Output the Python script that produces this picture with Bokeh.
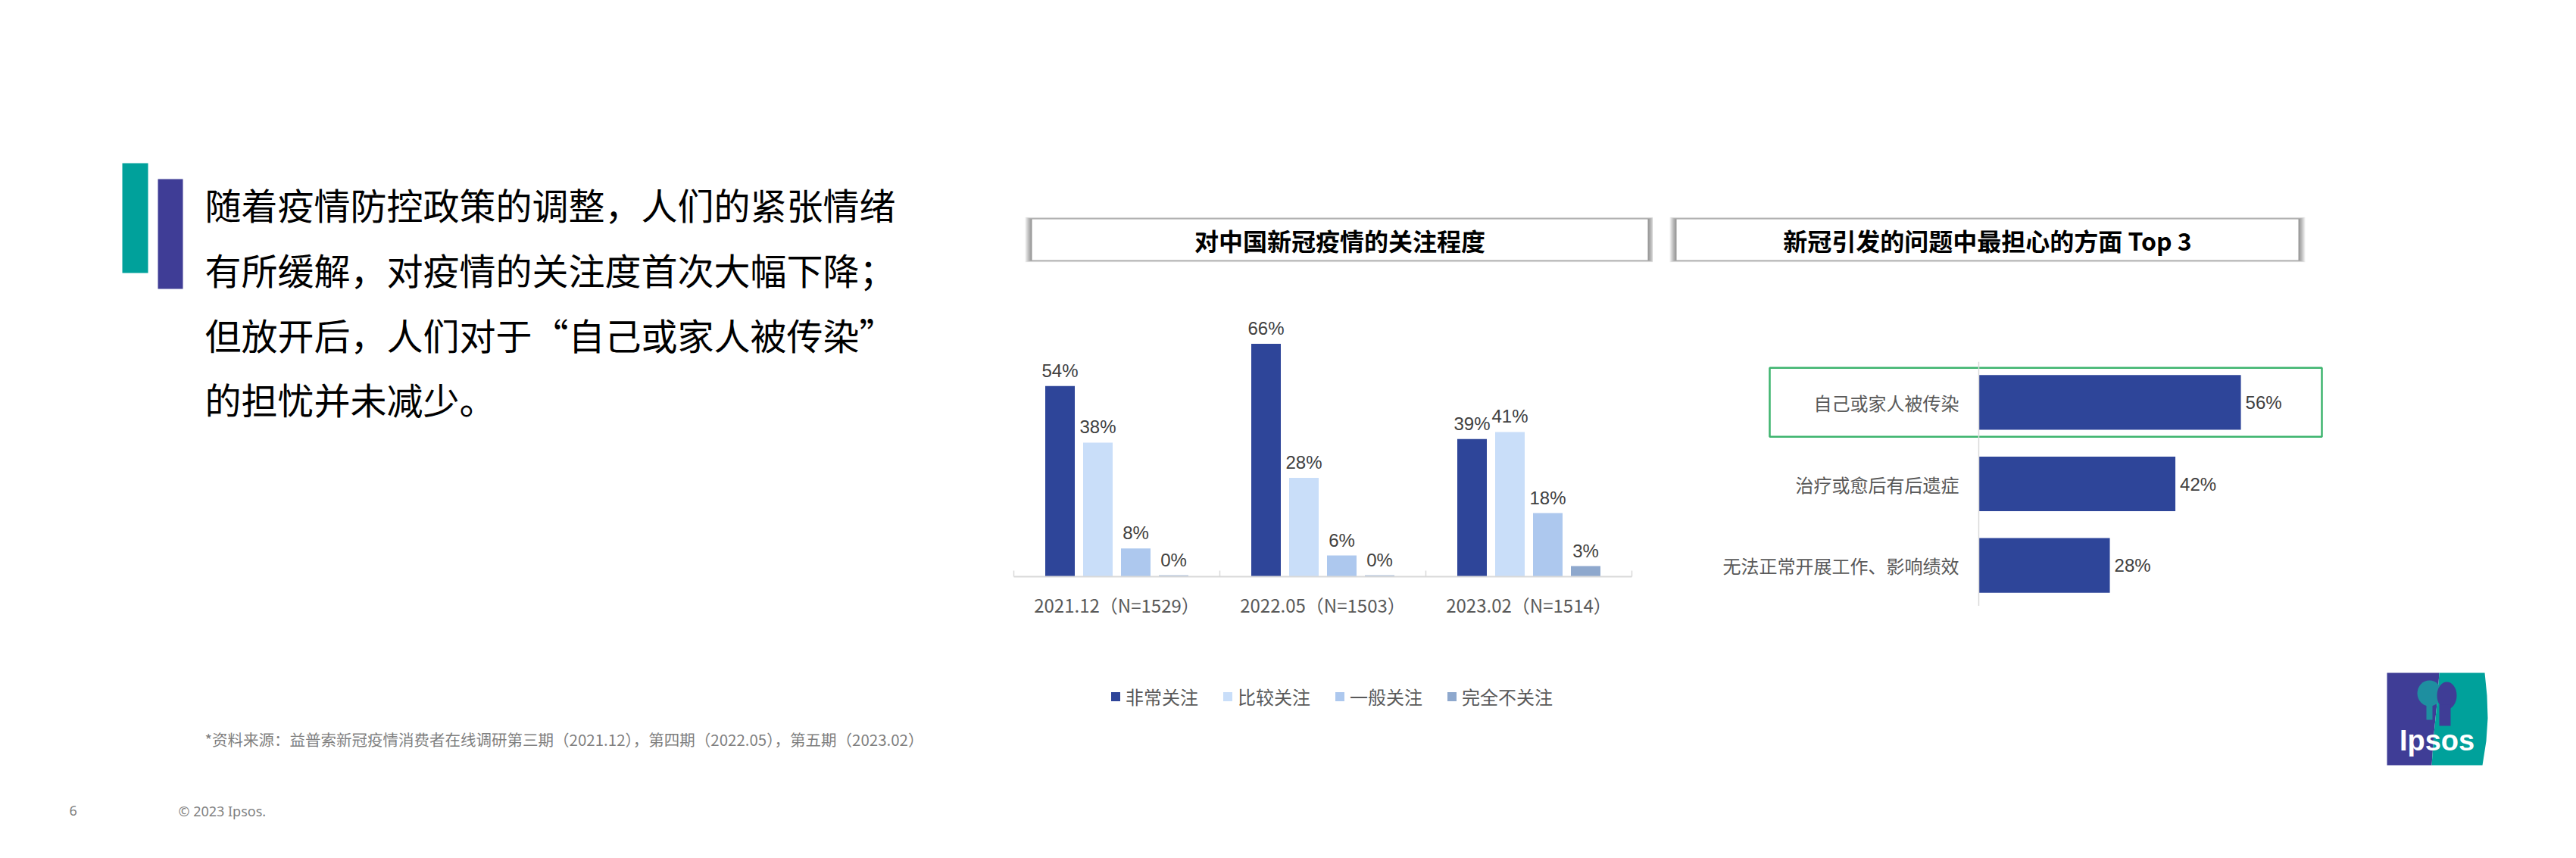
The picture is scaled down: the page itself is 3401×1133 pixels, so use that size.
from bokeh.plotting import figure
from bokeh.models import (Range1d, FactorRange, ColumnDataSource, Span, Legend,
                          LegendItem, Spacer)
from bokeh.layouts import row, column
from bokeh.transform import dodge
from bokeh.core.properties import value
from bokeh.embed import file_html
from bokeh.resources import INLINE

# ---------------- data ----------------
periods = ["2021.12（N=1529）", "2022.05（N=1503）", "2023.02（N=1514）"]
levels = ["非常关注", "比较关注", "一般关注", "完全不关注"]
very_concerned = [54, 66, 39]
fairly_concerned = [38, 28, 41]
somewhat_concerned = [8, 6, 18]
not_concerned = [0.4, 0.4, 3]

concern_items = ["自己或家人被传染", "治疗或愈后有后遗症", "无法正常开展工作、影响绩效"]
concern_share = [56, 42, 28]

headline = ["随着疫情防控政策的调整，人们的紧张情绪",
            "有所缓解，对疫情的关注度首次大幅下降；",
            "但放开后，人们对于“自己或家人被传染”",
            "的担忧并未减少。"]
title_left = "对中国新冠疫情的关注程度"
title_right = "新冠引发的问题中最担心的方面 Top 3"
footnote = "*资料来源：益普索新冠疫情消费者在线调研第三期（2021.12），第四期（2022.05），第五期（2023.02）"

# ---------------- style ----------------
CJK = "Noto Sans CJK SC"
NUM = "Liberation Sans"
level_colors = ["#2E4599", "#C9DEF9", "#ADC8EE", "#8EA8CD"]
H = 1117


def base_fig(w, h, x_range, y_range):
    p = figure(width=w, height=h, x_range=x_range, y_range=y_range,
               x_axis_type=None, y_axis_type=None, toolbar_location=None,
               output_backend="svg", outline_line_color=None,
               border_fill_color="white", background_fill_color="white")
    p.min_border_left = 0
    p.min_border_right = 0
    p.min_border_top = 0
    p.min_border_bottom = 0
    return p


def canvas(w, h, x0, y0):
    # pixel canvas in page coordinates, y grows downward
    return base_fig(w, h, Range1d(x0, x0 + w), Range1d(y0 + h, y0))


def title_box(p, x0, x1, y0, y1, text):
    for i in range(9, 0, -1):
        p.quad(left=x0 - i, right=x1 + i, top=y0 - 0.3 * i, bottom=y1 + 0.3 * i,
               fill_color="#000000", fill_alpha=0.055, line_color=None)
    p.quad(left=x0, right=x1, top=y0, bottom=y1, fill_color="white", line_color=None)
    p.text(x=[(x0 + x1) / 2], y=[(y0 + y1) / 2], text=[text],
           text_font=value(CJK), text_font_style="bold", text_font_size="32px",
           text_color="#000000", text_align="center", text_baseline="middle")


# ---------------- left text panel ----------------
A_W = 1310
pA = canvas(A_W, H, 0, 0)
pA.quad(left=161, right=195, top=215, bottom=360, fill_color="#00A19B", line_color=None)
pA.quad(left=208, right=241, top=236, bottom=381, fill_color="#3F3D96", line_color=None)
pA.text(x=[270] * len(headline), y=[268, 354, 440, 525], text=headline,
        text_font=value(CJK), text_font_size="48px", text_color="#000000",
        text_align="left", text_baseline="middle")
pA.text(x=[270], y=[975], text=[footnote], text_font=value(CJK),
        text_font_size="20.5px", text_color="#7F7F7F", text_align="left",
        text_baseline="middle")
pA.text(x=[91, 235], y=[1070, 1070], text=["6", "© 2023 Ipsos."],
        text_font=value("Noto Sans"), text_font_size="18px", text_color="#7F7F7F",
        text_align="left", text_baseline="middle")

# ---------------- chart 1: grouped bars ----------------
B_W = 872
B_X0 = A_W
tB = canvas(B_W, 400, B_X0, 0)
title_box(tB, 1362, 2175, 289, 343, title_left)

cat_px = 272.0
side_pad = (B_W / cat_px - len(periods)) / 2      # padding per side, category units
scale_b = 4.66
base_from_top = 361
chart_h = H - 400
xB = FactorRange(*periods, range_padding=side_pad, range_padding_units="absolute")
pB = base_fig(B_W, chart_h, xB,
              Range1d(-(chart_h - base_from_top) / scale_b, base_from_top / scale_b))

series = [very_concerned, fairly_concerned, somewhat_concerned, not_concerned]
cols = ["s0", "s1", "s2", "s3"]
data = dict(period=periods)
for c, s in zip(cols, series):
    data[c] = s
    data[c + "_lbl"] = [f"{round(v)}%" for v in s]
srcB = ColumnDataSource(data)

offsets_px = [-75, -25, 25, 75]
items = []
for c, name, color, off in zip(cols, levels, level_colors, offsets_px):
    xo = dodge("period", off / cat_px, range=xB)
    r = pB.vbar(x=xo, top=c, width=39 / cat_px, source=srcB,
                fill_color=color, line_color=None)
    pB.text(x=xo, y=c, text=c + "_lbl", source=srcB, y_offset=-7,
            text_font=value(NUM), text_font_size="24px", text_color="#404040",
            text_align="center", text_baseline="bottom")
    items.append(LegendItem(label=name, renderers=[r]))

# category axis line and boundary ticks
axis_src = ColumnDataSource(dict(a=periods[:1], b=periods[-1:]))
pB.segment(x0=dodge("a", -0.5, range=xB), y0=0, x1=dodge("b", 0.5, range=xB), y1=0,
           source=axis_src, line_color="#D9D9D9", line_width=2)
tick_src = ColumnDataSource(dict(period=periods))
pB.segment(x0=dodge("period", -0.5, range=xB), y0=0,
           x1=dodge("period", -0.5, range=xB), y1=8 / scale_b,
           source=tick_src, line_color="#D9D9D9", line_width=1.5)
pB.segment(x0=dodge("b", 0.5, range=xB), y0=0,
           x1=dodge("b", 0.5, range=xB), y1=8 / scale_b,
           source=axis_src, line_color="#D9D9D9", line_width=1.5)
pB.text(x="period", y=0, text="period", source=tick_src, y_offset=37,
        text_font=value(CJK), text_font_size="24px", text_color="#595959",
        text_align="center", text_baseline="middle")

legend = Legend(items=items, orientation="horizontal", location=(155, 180),
                glyph_width=15, glyph_height=15, label_standoff=6, spacing=31,
                padding=0, margin=0, border_line_color=None,
                background_fill_alpha=0, label_text_font=CJK,
                label_text_font_size="24px", label_text_color="#595959")
pB.add_layout(legend)

colB = column(tB, pB, spacing=0)

# ---------------- chart 2: horizontal bars ----------------
C_W = 906
C_X0 = B_X0 + B_W
C_TOP = 477
C_H = 323
tC = canvas(C_W, C_TOP, C_X0, 0)
title_box(tC, 2213, 3034, 289, 343, title_right)

scale_c = 6.18
zero_x = 2612
zero_px = zero_x - C_X0
pC = base_fig(C_W, C_H, Range1d(-zero_px / scale_c, (C_W - zero_px) / scale_c),
              FactorRange(*reversed(concern_items)))
srcC = ColumnDataSource(dict(item=concern_items, share=concern_share,
                             lbl=[f"{v}%" for v in concern_share]))
pC.hbar(y="item", left=0, right="share", height=0.67, source=srcC,
        fill_color=level_colors[0], line_color=None)
pC.add_layout(Span(location=0, dimension="height", line_color="#D9D9D9", line_width=1.5))
pC.text(x=0, y="item", text="item", source=srcC, x_offset=-26,
        text_font=value(CJK), text_font_size="24px", text_color="#595959",
        text_align="right", text_baseline="middle")
pC.text(x="share", y="item", text="lbl", source=srcC, x_offset=6,
        text_font=value(NUM), text_font_size="24px", text_color="#404040",
        text_align="left", text_baseline="middle")
# highlight box around the top concern
hx0 = (2336 - zero_x) / scale_c
hx1 = (3065 - zero_x) / scale_c
pC.rect(x=[(hx0 + hx1) / 2], y=[concern_items[0]], width=[hx1 - hx0], height=91,
        height_units="screen", fill_color=None, line_color="#3DB46E", line_width=2.5)

colC = column(tC, pC, Spacer(width=C_W, height=H - C_TOP - C_H), spacing=0)

# ---------------- logo ----------------
D_X0 = C_X0 + C_W
D_W = 3385 - D_X0
pD = canvas(D_W, H, D_X0, 0)
pD.patch(x=[3151, 3220, 3217, 3213, 3210, 3151],
         y=[888, 888, 928, 968, 1010, 1010], fill_color="#3F3D96", line_color=None)
pD.patch(x=[3220, 3280, 3283, 3284, 3282, 3277, 3210, 3213, 3217],
         y=[888, 888, 918, 948, 978, 1010, 1010, 968, 928], fill_color="#00A19B", line_color=None)
pD.ellipse(x=[3207], y=[915], width=[32], height=[34], fill_color="#1E8FA0", line_color=None)
pD.quad(left=[3203], right=[3211], top=[928], bottom=[950], fill_color="#1E8FA0", line_color=None)
pD.ellipse(x=[3230], y=[918], width=[26], height=[36], fill_color="#3F3D96", line_color=None)
pD.quad(left=[3220], right=[3235], top=[930], bottom=[958], fill_color="#3F3D96", line_color=None)
pD.text(x=[3217], y=[977], text=["Ipsos"], text_font=value(NUM),
        text_font_style="bold", text_font_size="38px", text_color="white",
        text_align="center", text_baseline="middle")

layout = row(pA, colB, colC, pD, spacing=0)

open("out.html", "w").write(file_html(layout, INLINE))
